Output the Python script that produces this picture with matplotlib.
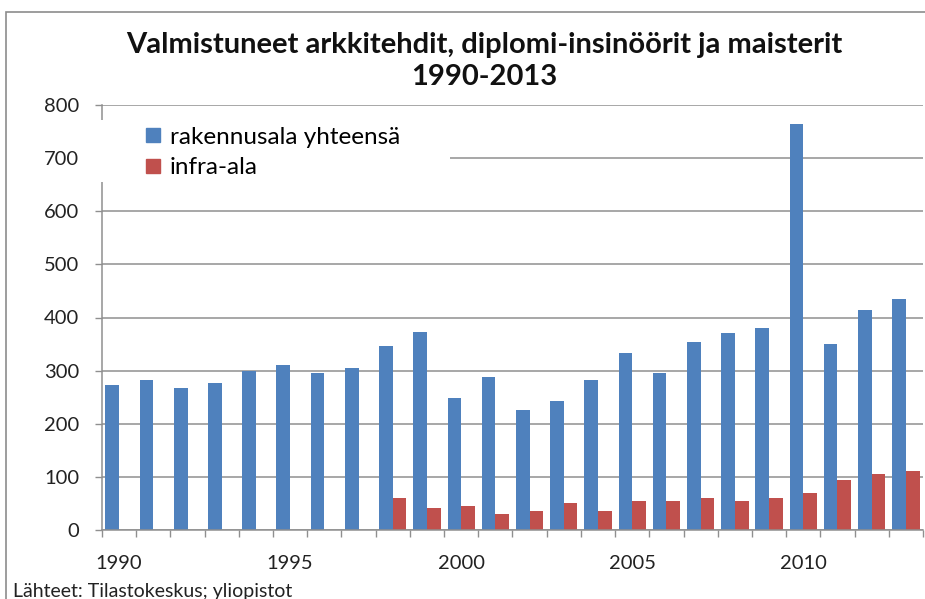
import matplotlib
matplotlib.use("Agg")
import matplotlib.pyplot as plt
from matplotlib.lines import Line2D
from matplotlib.patches import Rectangle
import numpy as np

# data
years = list(range(1990, 2014))
rakennusala = [273, 283, 268, 277, 300, 310, 296, 305, 346, 373, 248, 288,
               225, 242, 282, 334, 296, 354, 371, 381, 764, 351, 415, 435]
infra = [0, 0, 0, 0, 0, 0, 0, 0, 61, 41, 46, 31,
         35, 50, 35, 55, 55, 60, 55, 60, 70, 94, 106, 111]
series_names = ["rakennusala yhteensä", "infra-ala"]
title = "Valmistuneet arkkitehdit, diplomi-insinöörit ja maisterit\n1990-2013"
source = "Lähteet: Tilastokeskus; yliopistot"

blue = "#4F81BD"
red = "#C0504D"
grey = "#8f8f8f"

plt.rcParams['font.family'] = ['Lato', 'DejaVu Sans']

fig = plt.figure(figsize=(9.25, 5.99), dpi=100)
ax = fig.add_axes([102 / 925, 1 - 530 / 599, 821 / 925, 425 / 599])

x = np.arange(len(years))
w = 0.4
ax.bar(x - w / 2, rakennusala, width=w, color=blue, zorder=2)
ax.bar(x + w / 2, infra, width=w, color=red, zorder=2)

ax.set_xlim(-0.5, len(years) - 0.5)
ax.set_ylim(0, 800)
ax.set_yticks(range(0, 801, 100))
ax.yaxis.grid(True, color=grey, lw=1.1)
ax.set_axisbelow(True)

# labels every 5 years, tick marks at category boundaries
lab_idx = [i for i, y in enumerate(years) if y % 5 == 0]
ax.set_xticks(lab_idx)
ax.set_xticklabels([str(years[i]) for i in lab_idx])
ax.set_xticks(np.arange(-0.5, len(years)), minor=True)
ax.tick_params(axis='x', which='major', length=0, pad=18, labelsize=14.5, labelcolor='#222222')
ax.tick_params(axis='x', which='minor', length=5, width=1, color=grey)
ax.tick_params(axis='y', length=5, width=1, color=grey, pad=11.5, labelsize=14.5, labelcolor='#222222')

for s in ['top', 'right']:
    ax.spines[s].set_visible(False)
for s in ['left', 'bottom']:
    ax.spines[s].set_color(grey)
    ax.spines[s].set_linewidth(1.1)

# white box behind legend (covers spine and gridline like the original)
ax.add_patch(Rectangle((-0.012, 0.819), 0.436, 0.146, transform=ax.transAxes,
                       facecolor='white', edgecolor='none', zorder=3, clip_on=False))
handles = [Line2D([], [], ls='none', marker='s', markersize=9.5, color=blue),
           Line2D([], [], ls='none', marker='s', markersize=9.5, color=red)]
leg = ax.legend(handles, series_names, loc='upper left', bbox_to_anchor=(0.04, 0.972),
                frameon=False, fontsize=17.5, handlelength=0.7, handletextpad=0.35,
                labelspacing=0.4, borderaxespad=0)
leg.set_zorder(4)

fig.text(484 / 925, 1 - 61 / 599, title, ha='center', va='center', fontsize=21,
         fontweight='bold', linespacing=1.32, color='#111111')
fig.text(13 / 925, 2.5 / 599, source, ha='left', va='baseline', fontsize=14, color='#222222')

# outer chart frame
fig.patches.append(Rectangle((6 / 925, -0.1), 2, 1 - 12 / 599 + 0.1, transform=fig.transFigure,
                             fill=False, edgecolor='#8c8c8c', lw=1.2))

fig.savefig("out.png", dpi=100)
